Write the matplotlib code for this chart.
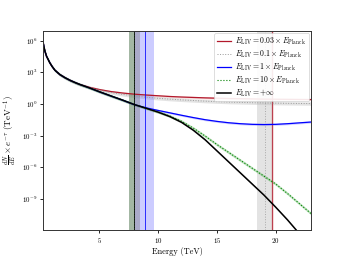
import numpy as np
import matplotlib
matplotlib.use("Agg")
import matplotlib.pyplot as plt

plt.rcParams['font.family'] = 'serif'
plt.rcParams['font.serif'] = ['cmr10', 'DejaVu Serif']
plt.rcParams['mathtext.fontset'] = 'cm'
plt.rcParams['axes.formatter.use_mathtext'] = True

# energies (TeV) and log10 of dN/dE x exp(-tau)
energy = [0.22, 0.3, 0.39, 0.53, 0.67, 0.81, 1.0, 1.24, 1.66, 2.1, 2.51, 3.0, 3.36,
          4.21, 5.06, 6, 7, 8, 9, 10, 11, 12, 13, 14, 15, 16, 17, 18, 19, 20, 21, 22, 23]
low_e = [5.93, 5.46, 5.0, 4.51, 4.2, 3.89, 3.55, 3.19, 2.78, 2.48, 2.24, 2.0, 1.84]

log_red = low_e + [1.56, 1.35, 1.17, 1.03, 0.92, 0.84, 0.77, 0.7, 0.65, 0.61, 0.57,
                   0.54, 0.51, 0.49, 0.47, 0.45, 0.44, 0.43, 0.42, 0.41]
log_gray = low_e + [1.54, 1.3, 1.08, 0.9, 0.75, 0.63, 0.53, 0.45, 0.38, 0.32, 0.26,
                    0.21, 0.17, 0.14, 0.11, 0.09, 0.07, 0.05, 0.04, 0.03]
log_blue = low_e + [1.5, 1.13, 0.75, 0.35, -0.08, -0.38, -0.62, -0.85, -1.08, -1.3, -1.5,
                    -1.66, -1.79, -1.88, -1.94, -1.96, -1.94, -1.88, -1.8, -1.72]
log_green = low_e + [1.5, 1.13, 0.75, 0.35, -0.07, -0.42, -0.76, -1.15, -1.65, -2.3, -3.05,
                     -3.85, -4.6, -5.35, -6.1, -6.85, -7.6, -8.5, -9.45, -10.4]
log_black = low_e + [1.5, 1.13, 0.75, 0.35, -0.07, -0.42, -0.78, -1.2, -1.75, -2.5, -3.4,
                     -4.45, -5.5, -6.55, -7.6, -8.65, -9.8, -11.0, -12.3, -13.6]
band_dex = [0.1, 0.16, 0.1, 0.13, 0.08]

# maximum energies (TeV): line, band low, band high
vlines = {
    'red':   (19.72, 19.6, 19.85),
    'gray':  (19.1, 18.45, 19.75),
    'blue':  (8.88, 8.03, 9.65),
    'green': (8.0, 7.52, 8.03),
    'black': (8.0, 7.52, 8.5),
}

labels = [r'$E_{\rm LIV} = 0.03 \times E_{\rm Planck}$',
          r'$E_{\rm LIV} = 0.1 \times E_{\rm Planck}$',
          r'$E_{\rm LIV} = 1 \times E_{\rm Planck}$',
          r'$E_{\rm LIV} = 10 \times E_{\rm Planck}$',
          r'$E_{\rm LIV} = +\infty$']

fig = plt.figure(figsize=(3.46, 2.59), dpi=100)
ax = fig.add_axes([0.124, 0.112, 0.775, 0.768])

series = [
    (log_red, '#b2182b', '-', 0.9, '#e8a0a0', 0.35),
    (log_gray, '#999999', ':', 0.7, '#bbbbbb', 0.4),
    (log_blue, 'blue', '-', 0.9, '#8080ff', 0.35),
    (log_green, 'green', ':', 0.8, '#66bb66', 0.45),
    (log_black, 'black', '-', 1.1, '#777777', 0.35),
]
keys = ['red', 'gray', 'blue', 'green', 'black']

E = np.array(energy)
for (logy, col, ls, lw, bcol, al), lab, bd, key in zip(series, labels, band_dex, keys):
    y = 10 ** np.array(logy)
    ax.fill_between(E, y * 10 ** (-bd), y * 10 ** bd, color=bcol, alpha=al, lw=0)
    ax.plot(E, y, color=col, ls=ls, lw=lw, label=lab)
    x0, xa, xb = vlines[key]
    ax.axvspan(xa, xb, color=bcol, alpha=0.4, lw=0)
    ax.axvline(x0, color=col, ls=ls, lw=0.7, alpha=0.8)

ax.set_yscale('log')
ax.set_xlim(0.22, 23)
ax.set_ylim(1.1e-12, 8e6)
ax.set_xticks([5, 10, 15, 20])
ax.set_yticks([1e-9, 1e-6, 1e-3, 1e0, 1e3, 1e6])
ax.minorticks_off()
ax.tick_params(labelsize=5, length=2, width=0.6, pad=2)
for s in ax.spines.values():
    s.set_linewidth(0.7)
    s.set_color('#333333')

ax.set_xlabel('Energy (TeV)', fontsize=6, labelpad=2)
ax.set_ylabel(r'$\frac{dN}{dE}\times e^{-\tau}\ (\mathrm{TeV}^{-1})$', fontsize=6.5, labelpad=3)

leg = ax.legend(loc='upper right', fontsize=5.6, frameon=True, framealpha=0.9,
                handlelength=1.8, handletextpad=0.6, borderpad=0.35, labelspacing=0.2,
                borderaxespad=0.25)
leg.get_frame().set_linewidth(0.5)

fig.savefig('out.png', dpi=100)
